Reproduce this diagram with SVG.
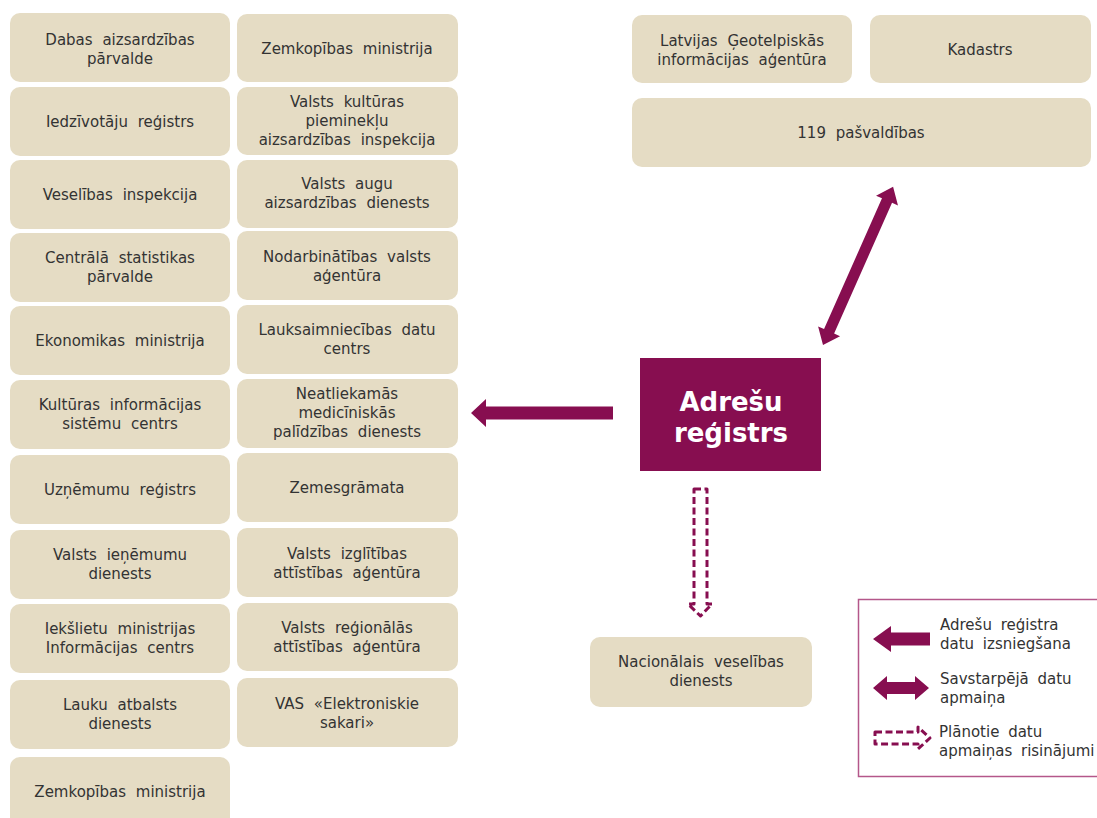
<svg xmlns="http://www.w3.org/2000/svg" width="1097" height="818" viewBox="0 0 1097 818">
<style>
.box{fill:#E5DCC4;}
.t{font-family:"DejaVu Sans",Verdana,sans-serif;font-size:15px;word-spacing:5px;fill:#333;text-anchor:middle;}
.lt{font-family:"DejaVu Sans",Verdana,sans-serif;font-size:15px;word-spacing:4px;fill:#333;}
.main{font-family:"DejaVu Sans",Verdana,sans-serif;font-size:26px;font-weight:bold;fill:#fff;text-anchor:middle;}
.arr{fill:#870E50;}
.dash{fill:none;stroke:#870E50;stroke-width:3;stroke-dasharray:7 3.5;stroke-linejoin:round;}
</style>
<rect width="1097" height="818" fill="#fff"/>
<g id="n-l1"><rect class="box" x="10" y="13" width="220" height="69" rx="10"/><text class="t" x="120" y="45">Dabas aizsardzības</text><text class="t" x="120" y="64">pārvalde</text></g>
<g id="n-l2"><rect class="box" x="10" y="87" width="220" height="69" rx="10"/><text class="t" x="120" y="127">Iedzīvotāju reģistrs</text></g>
<g id="n-l3"><rect class="box" x="10" y="160" width="220" height="69" rx="10"/><text class="t" x="120" y="200">Veselības inspekcija</text></g>
<g id="n-l4"><rect class="box" x="10" y="233" width="220" height="69" rx="10"/><text class="t" x="120" y="263">Centrālā statistikas</text><text class="t" x="120" y="282">pārvalde</text></g>
<g id="n-l5"><rect class="box" x="10" y="306" width="220" height="69" rx="10"/><text class="t" x="120" y="346">Ekonomikas ministrija</text></g>
<g id="n-l6"><rect class="box" x="10" y="380" width="220" height="69" rx="10"/><text class="t" x="120" y="410">Kultūras informācijas</text><text class="t" x="120" y="429">sistēmu centrs</text></g>
<g id="n-l7"><rect class="box" x="10" y="455" width="220" height="69" rx="10"/><text class="t" x="120" y="495">Uzņēmumu reģistrs</text></g>
<g id="n-l8"><rect class="box" x="10" y="530" width="220" height="69" rx="10"/><text class="t" x="120" y="560">Valsts ieņēmumu</text><text class="t" x="120" y="579">dienests</text></g>
<g id="n-l9"><rect class="box" x="10" y="604" width="220" height="69" rx="10"/><text class="t" x="120" y="634">Iekšlietu ministrijas</text><text class="t" x="120" y="653">Informācijas centrs</text></g>
<g id="n-l10"><rect class="box" x="10" y="680" width="220" height="69" rx="10"/><text class="t" x="120" y="710">Lauku atbalsts</text><text class="t" x="120" y="729">dienests</text></g>
<g id="n-l11"><rect class="box" x="10" y="757" width="220" height="80" rx="10"/><text class="t" x="120" y="797">Zemkopības ministrija</text></g>

<g id="n-r1"><rect class="box" x="237" y="14" width="221" height="68" rx="10"/><text class="t" x="347" y="54">Zemkopības ministrija</text></g>
<g id="n-r2"><rect class="box" x="237" y="87" width="221" height="68" rx="10"/><text class="t" x="347" y="107">Valsts kultūras</text><text class="t" x="347" y="126">pieminekļu</text><text class="t" x="347" y="145">aizsardzības inspekcija</text></g>
<g id="n-r3"><rect class="box" x="237" y="160" width="221" height="68" rx="10"/><text class="t" x="347" y="189">Valsts augu</text><text class="t" x="347" y="208">aizsardzības dienests</text></g>
<g id="n-r4"><rect class="box" x="237" y="231" width="221" height="69" rx="10"/><text class="t" x="347" y="262">Nodarbinātības valsts</text><text class="t" x="347" y="281">aģentūra</text></g>
<g id="n-r5"><rect class="box" x="237" y="305" width="221" height="69" rx="10"/><text class="t" x="347" y="335">Lauksaimniecības datu</text><text class="t" x="347" y="354">centrs</text></g>
<g id="n-r6"><rect class="box" x="237" y="379" width="221" height="69" rx="10"/><text class="t" x="347" y="399">Neatliekamās</text><text class="t" x="347" y="418">medicīniskās</text><text class="t" x="347" y="437">palīdzības dienests</text></g>
<g id="n-r7"><rect class="box" x="237" y="453" width="221" height="69" rx="10"/><text class="t" x="347" y="493">Zemesgrāmata</text></g>
<g id="n-r8"><rect class="box" x="237" y="528" width="221" height="69" rx="10"/><text class="t" x="347" y="559">Valsts izglītības</text><text class="t" x="347" y="578">attīstības aģentūra</text></g>
<g id="n-r9"><rect class="box" x="237" y="603" width="221" height="68" rx="10"/><text class="t" x="347" y="633">Valsts reģionālās</text><text class="t" x="347" y="652">attīstības aģentūra</text></g>
<g id="n-r10"><rect class="box" x="237" y="678" width="221" height="69" rx="10"/><text class="t" x="347" y="709">VAS «Elektroniskie</text><text class="t" x="347" y="728">sakari»</text></g>

<g id="n-lgia"><rect class="box" x="632" y="15" width="220" height="68" rx="10"/><text class="t" x="742" y="46">Latvijas Ģeotelpiskās</text><text class="t" x="742" y="65">informācijas aģentūra</text></g>
<g id="n-kad"><rect class="box" x="870" y="15" width="221" height="68" rx="10"/><text class="t" x="980" y="55">Kadastrs</text></g>
<g id="n-pasv"><rect class="box" x="632" y="98" width="459" height="69" rx="10"/><text class="t" x="861" y="138">119 pašvaldības</text></g>

<g id="n-ar"><rect x="640" y="358" width="181" height="113" fill="#870E50"/><text class="main" x="731" y="411">Adrešu</text><text class="main" x="731" y="442">reģistrs</text></g>

<g id="n-nvd"><rect class="box" x="590" y="637" width="222" height="70" rx="10"/><text class="t" x="701" y="667">Nacionālais veselības</text><text class="t" x="701" y="686">dienests</text></g>

<g id="connectors">
<polygon class="arr" points="471,413 486,399 486,406.5 613,406.5 613,419.5 486,419.5 486,427"/>
<polygon class="arr" transform="translate(823,345) rotate(-66.1)" points="0,0 15,-12 15,-5.5 158,-5.5 158,-12 173,0 158,12 158,5.5 15,5.5 15,12"/>
<path class="dash" d="M694,489 L707,489 L707,604 L712,604 L700.5,616 L688,604 L694,604 Z"/>
</g>

<g id="legend">
<rect x="858.5" y="599.5" width="260" height="177" fill="none" stroke="#B4578A" stroke-width="1.5"/>
<polygon class="arr" points="873,639 891,626 891,632.5 930,632.5 930,645.5 891,645.5 891,652"/>
<polygon class="arr" points="873,688 887,676 887,682 915,682 915,676 929,688 915,700 915,694 887,694 887,700"/>
<path class="dash" d="M875,732 L918,732 L918,727 L930,738 L918,749 L918,744 L875,744 Z" stroke-dasharray="7 3"/>
<text class="lt" x="940" y="630">Adrešu reģistra</text>
<text class="lt" x="940" y="649">datu izsniegšana</text>
<text class="lt" x="940" y="684">Savstarpējā datu</text>
<text class="lt" x="940" y="703">apmaiņa</text>
<text class="lt" x="939" y="737">Plānotie datu</text>
<text class="lt" x="939" y="756">apmaiņas risinājumi</text>
</g>
</svg>
